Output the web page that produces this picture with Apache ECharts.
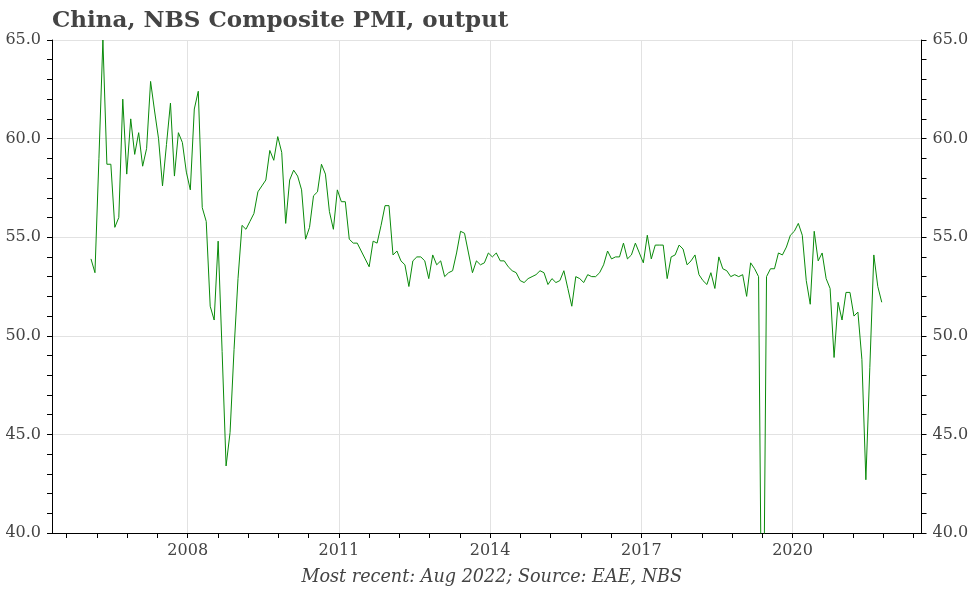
<!DOCTYPE html>
<html>
<head>
<meta charset="utf-8">
<script src="https://cdn.jsdelivr.net/npm/echarts@6/dist/echarts.min.js"></script>
<style>
html,body{margin:0;padding:0;background:#fff;}
#chart{width:972px;height:589px;}
</style>
</head>
<body>
<div id="chart"></div>
<script>
// Monthly series, Jan 2006 .. Aug 2022 (index 0 = first month)
const pmiOutput = [
  53.9, 53.2, 59.0, 65.0, 58.7, 58.7, 55.5, 56.0, 62.0, 58.2, 61.0, 59.2,
  60.3, 58.6, 59.5, 62.9, 61.4, 60.0, 57.6, 59.7, 61.8, 58.1, 60.3, 59.8,
  58.3, 57.4, 61.5, 62.4, 56.5, 55.8, 51.5, 50.8, 54.8, 49.2, 43.4, 45.1,
  49.3, 52.9, 55.6, 55.4, 55.8, 56.2, 57.3, 57.6, 57.9, 59.4, 58.9, 60.1,
  59.3, 55.7, 57.9, 58.4, 58.1, 57.4, 54.9, 55.5, 57.1, 57.3, 58.7, 58.2,
  56.3, 55.4, 57.4, 56.8, 56.8, 54.9, 54.7, 54.7, 54.3, 53.9, 53.5, 54.8,
  54.7, 55.6, 56.6, 56.6, 54.1, 54.3, 53.8, 53.6, 52.5, 53.8, 54.0, 54.0,
  53.8, 52.9, 54.1, 53.6, 53.8, 53.0, 53.2, 53.3, 54.2, 55.3, 55.2, 54.2,
  53.2, 53.8, 53.6, 53.7, 54.2, 54.0, 54.2, 53.8, 53.8, 53.5, 53.3, 53.2,
  52.8, 52.7, 52.9, 53.0, 53.1, 53.3, 53.2, 52.6, 52.9, 52.7, 52.8, 53.3,
  52.4, 51.5, 53.0, 52.9, 52.7, 53.1, 53.0, 53.0, 53.2, 53.6, 54.3, 53.9,
  54.0, 54.0, 54.7, 53.9, 54.1, 54.7, 54.2, 53.7, 55.1, 53.9, 54.6, 54.6,
  54.6, 52.9, 54.0, 54.1, 54.6, 54.4, 53.6, 53.8, 54.1, 53.1, 52.8, 52.6,
  53.2, 52.4, 54.0, 53.4, 53.3, 53.0, 53.1, 53.0, 53.1, 52.0, 53.7, 53.4,
  53.0, 28.9, 53.0, 53.4, 53.4, 54.2, 54.1, 54.5, 55.1, 55.3, 55.7, 55.1,
  52.8, 51.6, 55.3, 53.8, 54.2, 52.9, 52.4, 48.9, 51.7, 50.8, 52.2, 52.2,
  51.0, 51.2, 48.8, 42.7, 48.4, 54.1, 52.5, 51.7
];
const xTickLabels = ['2008', '2011', '2014', '2017', '2020'];
const yTickValues = [40, 45, 50, 55, 60, 65];

// axis layout (in month-index units)
const xMin = -9.81, xMax = 209.0;
const labelStart = 24.34, labelStep = 38.05, minorPerLabel = 5;
const majorPos = xTickLabels.map((_, k) => labelStart + k * labelStep);
const minorPos = [];
for (let v = labelStart - 5 * (labelStep / minorPerLabel); v <= xMax; v += labelStep / minorPerLabel) {
  if (v >= xMin) minorPos.push(v);
}

const seriesData = pmiOutput.map((v, i) => [i, v]);
const txt = '#444';
const fontFam = '"DejaVu Serif", Georgia, serif';

const yAxisBase = (pos, grid) => ({
  type: 'value', position: pos, min: yTickValues[0], max: yTickValues[yTickValues.length - 1], interval: 5,
  axisLine: { show: true, onZero: false, lineStyle: { color: '#000', width: 1 } },
  axisTick: { show: true, inside: false, length: 5, lineStyle: { color: '#000' } },
  minorTick: { show: true, splitNumber: 5, length: 5, lineStyle: { color: '#000' } },
  axisLabel: { show: true, color: txt, fontFamily: fontFam, fontSize: 16, margin: 11,
    formatter: v => v.toFixed(1) },
  splitLine: { show: grid, lineStyle: { color: '#e2e2e2', width: 1 } },
  minorSplitLine: { show: false }
});

const chart = echarts.init(document.getElementById('chart'), null, { renderer: 'canvas' });
chart.setOption({
  animation: false,
  backgroundColor: '#fff',
  title: [{
    text: 'China, NBS Composite PMI, output',
    left: 47, top: 5,
    textStyle: { fontFamily: fontFam, fontWeight: 'bold', fontSize: 23, color: txt }
  }, {
    text: 'Most recent: Aug 2022; Source: EAE, NBS',
    left: 486.75, textAlign: 'center', top: 563,
    textStyle: { fontFamily: fontFam, fontStyle: 'italic', fontWeight: 'normal', fontSize: 17.6, color: txt }
  }],
  grid: { left: 52, right: 50.5, top: 40, bottom: 56, containLabel: false },
  xAxis: [{
    type: 'value', position: 'bottom', min: xMin, max: xMax,
    axisLine: { show: true, onZero: false, lineStyle: { color: '#000' } },
    axisTick: { show: true, length: 5, customValues: majorPos, lineStyle: { color: '#000' } },
    axisLabel: { show: true, customValues: majorPos, color: txt, fontFamily: fontFam, fontSize: 16, margin: 10,
      formatter: v => xTickLabels[Math.round((v - labelStart) / labelStep)] || '' },
    splitLine: { show: true, lineStyle: { color: '#e2e2e2', width: 1 } }
  }, {
    type: 'value', position: 'bottom', min: xMin, max: xMax,
    axisLine: { show: true, onZero: false, lineStyle: { color: '#000' } },
    axisTick: { show: true, length: 5, customValues: minorPos, lineStyle: { color: '#000' } },
    axisLabel: { show: false },
    splitLine: { show: false }
  }],
  yAxis: [yAxisBase('left', true), yAxisBase('right', false)],
  series: [{
    type: 'line',
    xAxisIndex: 0, yAxisIndex: 0,
    data: seriesData,
    showSymbol: false,
    symbol: 'none',
    clip: true,
    lineStyle: { color: '#0a8a0a', width: 1 },
    itemStyle: { color: '#0a8a0a' }
  }]
});
</script>
</body>
</html>
